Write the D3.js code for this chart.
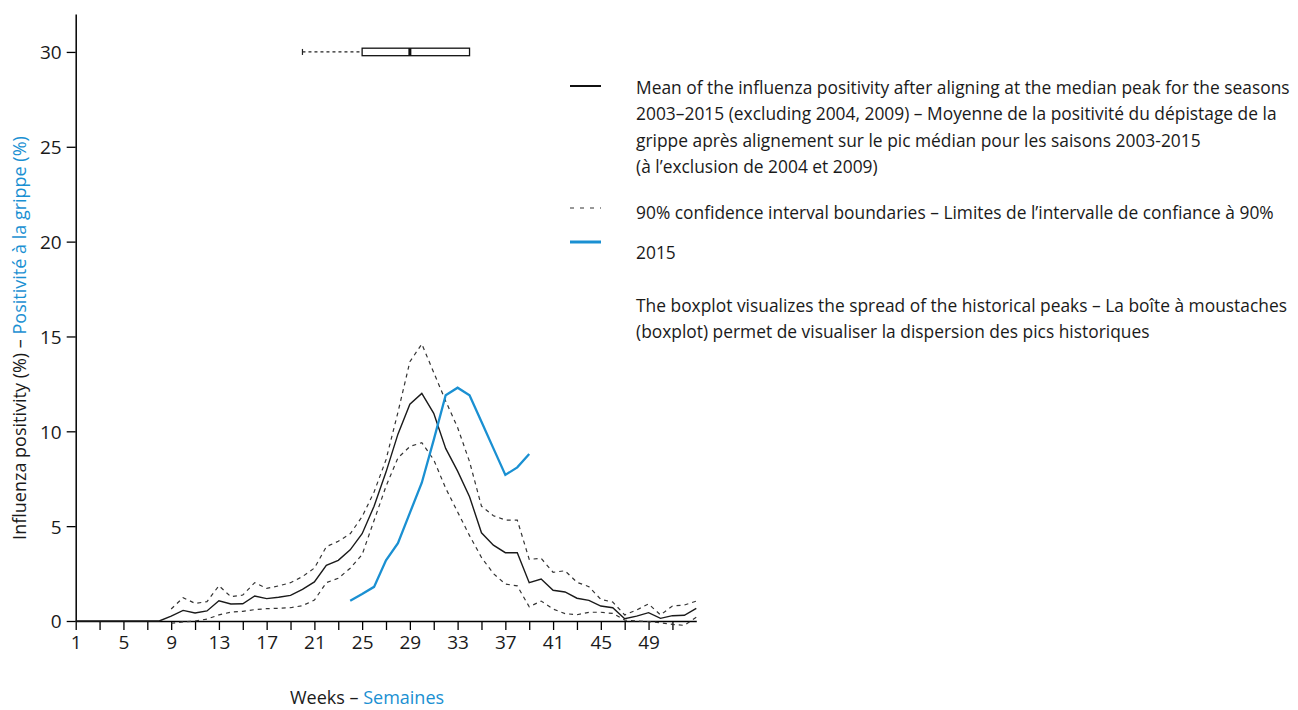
<!DOCTYPE html>
<html>
<head>
<meta charset="utf-8">
<script src="https://cdn.jsdelivr.net/npm/d3@7"></script>
<style>
  html, body { margin: 0; padding: 0; background: #fff; }
  svg text { font-family: "Open Sans", "Noto Sans", sans-serif; fill: #1a1a1a; }
</style>
</head>
<body>
<svg id="chart" width="1298" height="710"></svg>
<script>
// ---- data ----
const weeks = d3.range(1, 54);
const meanValues = [0,0,0,0,0,0,0,0,0.26,0.56,0.42,0.53,1.07,0.9,0.91,1.32,1.18,1.25,1.35,1.67,2.06,2.94,3.2,3.75,4.6,6.05,7.85,9.85,11.43,12.0,10.95,9.1,7.9,6.55,4.65,4.0,3.6,3.6,2.02,2.21,1.62,1.53,1.2,1.09,0.79,0.7,0.12,0.26,0.44,0.14,0.28,0.3,0.67];
const upperValues = [null,null,null,null,null,null,null,null,0.63,1.23,0.93,1.02,1.86,1.28,1.37,2.02,1.72,1.85,2.02,2.34,2.79,3.92,4.2,4.6,5.5,6.8,8.5,11.0,13.67,14.6,13.1,11.6,10.2,8.4,6.05,5.55,5.32,5.32,3.25,3.3,2.57,2.65,2.04,1.81,1.14,1.0,0.32,0.58,0.9,0.32,0.79,0.84,1.05];
const lowerValues = [null,null,null,null,null,null,null,null,-0.12,-0.05,0,0.1,0.32,0.47,0.51,0.6,0.65,0.67,0.7,0.81,1.1,2.02,2.25,2.78,3.5,5.3,7.1,8.6,9.2,9.4,8.5,7.0,5.75,4.5,3.35,2.5,1.95,1.85,0.75,1.05,0.63,0.39,0.33,0.46,0.46,0.4,0.05,0,-0.03,-0.09,-0.18,-0.23,0.2];
const weeks2015 = d3.range(24, 40);
const values2015 = [1.07,1.42,1.8,3.2,4.1,5.7,7.29,9.55,11.9,12.3,11.9,10.5,9.1,7.7,8.1,8.8];
const peakBox = { min: 20, q1: 25, median: 29, q3: 34, max: 34, level: 30 };
const yTicks = [0,5,10,15,20,25,30];
const xTickWeeks = d3.range(1, 52, 2);
const xLabelWeeks = d3.range(1, 50, 4);
const legendMean = ["Mean of the influenza positivity after aligning at the median peak for the seasons",
  "2003\u20132015 (excluding 2004, 2009) \u2013 Moyenne de la positivit\u00e9 du d\u00e9pistage de la",
  "grippe apr\u00e8s alignement sur le pic m\u00e9dian pour les saisons 2003-2015",
  "(\u00e0 l\u2019exclusion de 2004 et 2009)"];
const legendCI = "90% confidence interval boundaries \u2013 Limites de l\u2019intervalle de confiance \u00e0 90%";
const legend2015 = "2015";
const legendBox = ["The boxplot visualizes the spread of the historical peaks \u2013 La bo\u00eete \u00e0 moustaches",
  "(boxplot) permet de visualiser la dispersion des pics historiques"];

const BLUE = "#1a90d2";
const svg = d3.select("#chart");
const x = d3.scaleLinear().domain([1, 53]).range([75.7, 696.3]);
const y = d3.scaleLinear().domain([0, 32]).range([621, 14]);

// axes
const yAxis = svg.append("g").attr("transform", `translate(${x(1)},0)`)
  .call(d3.axisLeft(y).tickValues(yTicks).tickSize(9).tickSizeOuter(0).tickPadding(5));
const xAxis = svg.append("g").attr("transform", `translate(0,${y(0)})`)
  .call(d3.axisBottom(x).tickValues(xTickWeeks).tickSize(9).tickSizeOuter(0).tickPadding(4)
    .tickFormat(d => xLabelWeeks.includes(d) ? d : ""));
[yAxis, xAxis].forEach(g => {
  g.selectAll("path.domain").attr("stroke", "#000").attr("stroke-width", 1.5);
  g.selectAll(".tick line").attr("stroke", "#000").attr("stroke-width", 1.3);
  g.selectAll(".tick text").style("font-size", "19px").attr("fill", "#1a1a1a")
    .style("font-family", "'Open Sans', sans-serif");
});
yAxis.selectAll(".tick text").attr("dy", "0.36em");
xAxis.selectAll(".tick text").attr("dy", "0.78em");

// lines
const line = d3.line().defined(d => d[1] !== null).x(d => x(d[0])).y(d => y(d[1]));
const lower = weeks.map((w, i) => [w, lowerValues[i]]);
const upper = weeks.map((w, i) => [w, upperValues[i]]);
const mean = weeks.map((w, i) => [w, meanValues[i]]);
const s2015 = weeks2015.map((w, i) => [w, values2015[i]]);

svg.append("path").datum(upper).attr("d", line).attr("fill", "none")
  .attr("stroke", "#333").attr("stroke-width", 1.2).attr("stroke-dasharray", "4,4");
svg.append("path").datum(lower).attr("d", line).attr("fill", "none")
  .attr("stroke", "#333").attr("stroke-width", 1.2).attr("stroke-dasharray", "4,4");
svg.append("path").datum(mean).attr("d", line).attr("fill", "none")
  .attr("stroke", "#1a1a1a").attr("stroke-width", 1.4);
svg.append("path").datum(s2015).attr("d", line).attr("fill", "none")
  .attr("stroke", BLUE).attr("stroke-width", 2.3);

// boxplot
const by = y(peakBox.level);
const bh = 7.5;
const bp = svg.append("g");
bp.append("line").attr("x1", x(peakBox.min)).attr("x2", x(peakBox.q1)).attr("y1", by).attr("y2", by)
  .attr("stroke", "#222").attr("stroke-width", 1.2).attr("stroke-dasharray", "3,3");
bp.append("line").attr("x1", x(peakBox.min)).attr("x2", x(peakBox.min)).attr("y1", by - 3).attr("y2", by + 3)
  .attr("stroke", "#222").attr("stroke-width", 1.2);
bp.append("line").attr("x1", x(peakBox.q3)).attr("x2", x(peakBox.max)).attr("y1", by).attr("y2", by)
  .attr("stroke", "#222").attr("stroke-width", 1.2).attr("stroke-dasharray", "3,3");
bp.append("rect").attr("x", x(peakBox.q1)).attr("y", by - bh / 2).attr("width", x(peakBox.q3) - x(peakBox.q1))
  .attr("height", bh).attr("fill", "#fff").attr("stroke", "#111").attr("stroke-width", 1.3);
bp.append("line").attr("x1", x(peakBox.median)).attr("x2", x(peakBox.median)).attr("y1", by - bh / 2).attr("y2", by + bh / 2)
  .attr("stroke", "#111").attr("stroke-width", 3);

// axis titles
const yt = svg.append("text").attr("transform", "translate(26,338) rotate(-90)")
  .attr("text-anchor", "middle").style("font-size", "18px");
yt.append("tspan").text("Influenza positivity (%) \u2013 ");
yt.append("tspan").style("fill", BLUE).text("Positivit\u00e9 \u00e0 la grippe (%)");
const xt = svg.append("text").attr("x", 367).attr("y", 704).attr("text-anchor", "middle").style("font-size", "18px");
xt.append("tspan").text("Weeks \u2013 ");
xt.append("tspan").style("fill", BLUE).text("Semaines");

// legend
const lg = svg.append("g");
const tx = 636;
const fs = "18px";
lg.append("line").attr("x1", 570).attr("x2", 601).attr("y1", 86).attr("y2", 86).attr("stroke", "#111").attr("stroke-width", 2);
lg.append("line").attr("x1", 570).attr("x2", 601).attr("y1", 208).attr("y2", 208).attr("stroke", "#333")
  .attr("stroke-width", 1.2).attr("stroke-dasharray", "4,6");
lg.append("line").attr("x1", 570).attr("x2", 601).attr("y1", 242).attr("y2", 242).attr("stroke", BLUE).attr("stroke-width", 3);

// legend texts are drawn in a horizontally condensed group (the reference font is narrow)
const lt = lg.append("g");
const rows = [];
legendMean.forEach((t, i) => rows.push([t, 94 + i * 26.3]));
rows.push([legendCI, 219]);
rows.push([legend2015, 259]);
legendBox.forEach((t, i) => rows.push([t, 312 + i * 26.3]));
rows.forEach(([t, yy]) => lt.append("text").attr("x", 0).attr("y", yy).style("font-size", fs).text(t));
let maxW = 0;
lt.selectAll("text").each(function () { maxW = Math.max(maxW, this.getComputedTextLength()); });
const maxRight = 1290;
const sx = Math.min(1, (maxRight - tx) / maxW);
lt.attr("transform", `translate(${tx},0) scale(${sx},1)`);
</script>
</body>
</html>
